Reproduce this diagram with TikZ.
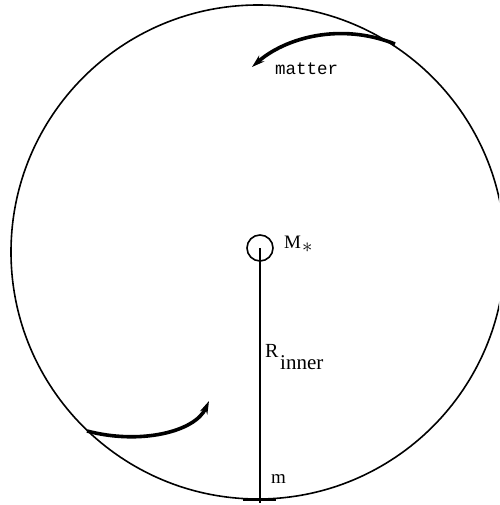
\documentclass[tikz,border=0pt]{standalone}
\usepackage{fontspec}
\setmainfont{Liberation Serif}
\setmonofont{Liberation Mono}
\usetikzlibrary{arrows.meta}
\begin{document}
\begin{tikzpicture}[x=1pt,y=-1pt,
  outline/.style={line width=1.6pt},
  flow/.style={line width=3.6pt,-{Stealth[length=13pt,width=8pt]}},
  lbl/.style={inner sep=0pt,font=\fontsize{19}{19}\selectfont}]
\useasboundingbox (0,0) rectangle (499,505);
\clip (0,0) rectangle (499,505);
\coordinate (O) at (258,252);
\draw[outline] (O) circle[radius=247];
\node[draw,circle,outline,minimum size=26pt,inner sep=0pt] (star) at (260,248) {};
\coordinate (bot) at (260,503);
\draw[outline] (star.center) -- (bot);
\draw[line width=2.6pt] (243,499.3) -- (276,499.3);
\node[lbl,anchor=base west] (M) at (284,248) {M};
\node[lbl,anchor=base west,font=\fontsize{22}{22}\selectfont] (ast) at (302,252) {$*$};
\node[lbl,anchor=base west,font=\fontsize{20}{20}\selectfont] (R) at (265,357) {R};
\node[lbl,anchor=base west,font=\fontsize{21}{21}\selectfont] (inner) at (280,369) {inner};
\node[lbl,anchor=base west,font=\ttfamily\fontsize{17.5}{17.5}\selectfont] (matter) at (275,75) {matter};
\node[lbl,anchor=base west,font=\fontsize{19}{19}\selectfont] (m) at (271,483) {m};
\coordinate (a1s) at (395,44);
\coordinate (a1e) at (252,67);
\draw[flow] (a1s) .. controls (340,22) and (285,38) .. (a1e);
\coordinate (a2s) at (87,431);
\coordinate (a2e) at (209,401);
\draw[flow] (a2s) .. controls (140,445) and (195,432) .. (a2e);
\end{tikzpicture}
\end{document}
